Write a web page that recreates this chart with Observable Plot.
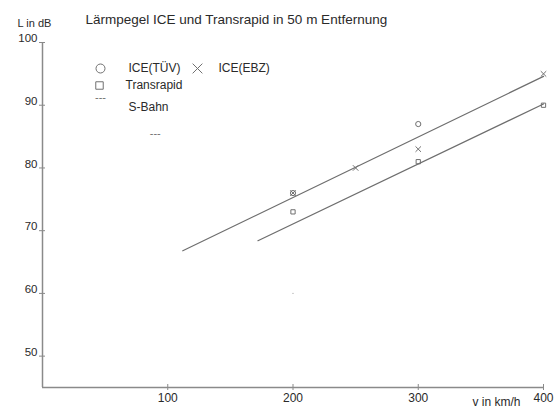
<!DOCTYPE html>
<html>
<head>
<meta charset="utf-8">
<script src="https://cdn.jsdelivr.net/npm/d3@7"></script>
<script src="https://cdn.jsdelivr.net/npm/@observablehq/plot@0.6"></script>
<style>
  html, body { margin: 0; padding: 0; background: #fff; }
  svg { display: block; }
</style>
</head>
<body>
<div id="chart"></div>
<script>
// ---- data ----
const xDomain = [0, 400];
const yDomain = [45, 100];
const xTicks = [100, 200, 300, 400];
const yTicks = [50, 60, 70, 80, 90, 100];

const iceTUV = [ {v: 200, L: 76}, {v: 300, L: 87} ];
const iceEBZ = [ {v: 200, L: 76}, {v: 250, L: 80}, {v: 300, L: 83}, {v: 400, L: 95} ];
const transrapid = [ {v: 200, L: 73}, {v: 300, L: 81}, {v: 400, L: 90} ];
const sBahn = [ {v: 90, L: 85.5} ];
const strayDot = [ {v: 200, L: 60} ];

const iceFit = [ {v: 112, L: 66.8}, {v: 400, L: 94.6} ];
const trFit = [ {v: 172, L: 68.4}, {v: 400, L: 90.2} ];

const title = "Lärmpegel ICE und Transrapid in 50 m Entfernung";
const yLabel = "L in dB";
const xLabel = "v in km/h";

const axisColor = "#8a8a8a";
const lineColor = "#6e6e6e";
const textColor = "#2a2a2a";
const markColor = "#707070";

const chart = Plot.plot({
  width: 555,
  height: 408,
  marginLeft: 42,
  marginRight: 12,
  marginTop: 42,
  marginBottom: 21,
  style: { fontFamily: "Liberation Sans, Arial, sans-serif", background: "#fff" },
  x: { domain: xDomain, axis: null },
  y: { domain: yDomain, axis: null },
  marks: [
    // axis lines
    Plot.ruleX([xDomain[0]], { y1: yDomain[0], y2: yDomain[1], stroke: axisColor, strokeWidth: 1.5 }),
    Plot.ruleY([yDomain[0]], { x1: xDomain[0], x2: xDomain[1], stroke: axisColor, strokeWidth: 1.5 }),
    // crossing ticks
    Plot.axisY({ ticks: yTicks, tickSize: 6, dx: 3, tickFormat: () => "", stroke: axisColor, label: null }),
    Plot.axisX({ ticks: xTicks, tickSize: 6, dy: -3, tickFormat: () => "", stroke: axisColor, label: null }),
    // tick labels
    Plot.axisY({ ticks: yTicks, tickSize: 0, tickPadding: 5, dy: -4, fontSize: 11.5, color: textColor, label: null }),
    Plot.axisX({ ticks: xTicks, tickSize: 0, tickPadding: 6, fontSize: 12, color: textColor, label: null }),
    // fit lines
    Plot.line(iceFit, { x: "v", y: "L", stroke: lineColor, strokeWidth: 1.2 }),
    Plot.line(trFit, { x: "v", y: "L", stroke: lineColor, strokeWidth: 1.2 }),
    // data markers
    Plot.dot(iceTUV, { x: "v", y: "L", symbol: "circle", r: 2.6, stroke: markColor, strokeWidth: 1 }),
    Plot.dot(iceEBZ, { x: "v", y: "L", symbol: "times", r: 2.6, stroke: markColor, strokeWidth: 1 }),
    Plot.dot(transrapid, { x: "v", y: "L", symbol: "square", r: 2.4, stroke: markColor, strokeWidth: 1 }),
    Plot.text(sBahn, { x: "v", y: "L", text: () => "---", fill: markColor, fontSize: 11 }),
    Plot.dot(strayDot, { x: "v", y: "L", r: 0.6, fill: "#aaa", stroke: null }),
    // title & axis labels
    Plot.text([title], { frameAnchor: "top-left", dx: 43, dy: -23, textAnchor: "start", lineAnchor: "middle", fontSize: 13.5, fill: textColor }),
    Plot.text([yLabel], { frameAnchor: "top-left", dx: -25, dy: -19, textAnchor: "start", lineAnchor: "middle", fontSize: 11, fill: textColor }),
    Plot.text([xLabel], { frameAnchor: "bottom-right", dx: -71, dy: 15, textAnchor: "start", lineAnchor: "middle", fontSize: 12, fill: textColor }),
    // legend
    Plot.dot(["ICE(TÜV)"], { frameAnchor: "top-left", dx: 58, dy: 26, symbol: "circle", r: 4.5, stroke: markColor, strokeWidth: 1 }),
    Plot.text(["ICE(TÜV)"], { frameAnchor: "top-left", dx: 86, dy: 26, textAnchor: "start", lineAnchor: "middle", fontSize: 12, fill: textColor }),
    Plot.dot(["ICE(EBZ)"], { frameAnchor: "top-left", dx: 155, dy: 26, symbol: "times", r: 4.5, stroke: markColor, strokeWidth: 1 }),
    Plot.text(["ICE(EBZ)"], { frameAnchor: "top-left", dx: 176, dy: 26, textAnchor: "start", lineAnchor: "middle", fontSize: 12, fill: textColor }),
    Plot.dot(["Transrapid"], { frameAnchor: "top-left", dx: 57, dy: 43, symbol: "square", r: 4.2, stroke: markColor, strokeWidth: 1 }),
    Plot.text(["Transrapid"], { frameAnchor: "top-left", dx: 83, dy: 43, textAnchor: "start", lineAnchor: "middle", fontSize: 12, fill: textColor }),
    Plot.text(["---"], { frameAnchor: "top-left", dx: 58, dy: 55, textAnchor: "middle", lineAnchor: "middle", fontSize: 11, fill: markColor }),
    Plot.text(["S-Bahn"], { frameAnchor: "top-left", dx: 86, dy: 65, textAnchor: "start", lineAnchor: "middle", fontSize: 12, fill: textColor })
  ]
});

document.getElementById("chart").appendChild(chart);
</script>
</body>
</html>
